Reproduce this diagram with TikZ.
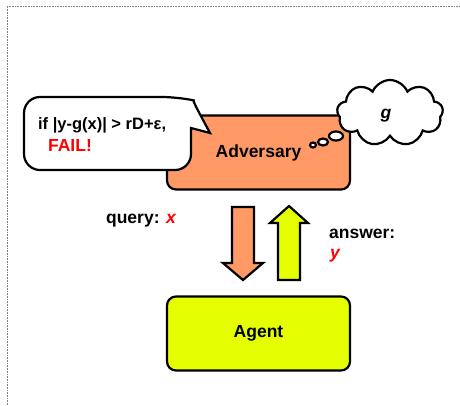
\documentclass[tikz,border=0pt]{standalone}
\usepackage{fontspec}
\setmainfont{Liberation Sans}
\usetikzlibrary{shapes.symbols,shapes.geometric}
\definecolor{salmon}{HTML}{FF9966}
\definecolor{lime}{HTML}{E5FF00}
\begin{document}
\begin{tikzpicture}[x=1bp,y=-1bp,line width=2.2bp,
		font=\fontsize{17.5bp}{21bp}\selectfont\bfseries,
		box/.style={draw,rounded corners=9bp,minimum width=183bp,minimum height=74bp},
		lbl/.style={anchor=base west,inner sep=0pt},
		puff/.style={draw,fill=white,ellipse,inner sep=0pt},
		blockarrow/.style={draw,line join=miter}]
	\useasboundingbox (0,0) rectangle (460,405);
	\draw[densely dotted,gray,line width=0.6bp] (7,405) -- (7,6) -- (460,6);
	\node[box,fill=salmon] (adv) at (258.5,152.5) {Adversary};
	\node[box,fill=lime] (agent) at (258.5,333.5) {Agent};
	% speech bubble
	\draw[fill=white] (24,135) [rounded corners=16bp] |- (178,97)
		[sharp corners] .. controls (192,100) and (202,118) .. (210,133) -- (191,128)
		[rounded corners=16bp] |- (24,170) -- cycle;
	\node[lbl,font=\fontsize{16.5bp}{20bp}\selectfont\bfseries] (cond) at (37,129) {if |y-g(x)| > rD+ε,};
	\node[lbl,red] (fail) at (47,151) {FAIL!};
	% thought cloud
	\node[cloud,draw,fill=white,cloud puffs=9,cloud puff arc=135,aspect=1.6,
		minimum width=106bp,minimum height=66bp,inner sep=0pt] (thought) at (390,113) {};
	\node (g) at (386,116) {\itshape g};
	\node[puff,minimum width=14bp,minimum height=9bp] (p1) at (336,136) {};
	\node[puff,minimum width=10bp,minimum height=7bp] (p2) at (323,142) {};
	\node[puff,minimum width=6bp,minimum height=5bp] (p3) at (313,145) {};
	% query / answer
	\draw[blockarrow,fill=salmon] (232,207) -- (254,207) -- (254,263) -- (263,263)
		-- (243,280) -- (223,263) -- (232,263) -- cycle;
	\draw[blockarrow,fill=lime] (278,280) -- (300,280) -- (300,223) -- (308,223)
		-- (289,206) -- (270,223) -- (278,223) -- cycle;
	\node[lbl] (query) at (105,223) {query: \textcolor{red}{\itshape x}};
	\node[lbl] (answer) at (328,238) {answer:};
	\node[lbl,red] (ans) at (329,258) {\itshape y};
\end{tikzpicture}
\end{document}
